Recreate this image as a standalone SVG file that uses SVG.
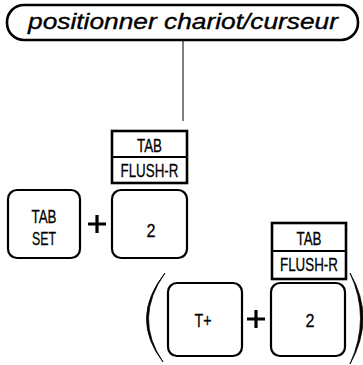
<svg xmlns="http://www.w3.org/2000/svg" width="363" height="365" viewBox="0 0 363 365">
<style>
.key{fill:#fff;stroke:#000;stroke-width:2.2}
.lbl{fill:#fff;stroke:#000;stroke-width:2.6}
.t{font-family:"Liberation Sans",Arial,sans-serif;font-size:19px;fill:#000;stroke:#000;stroke-width:0.3;text-anchor:middle}
.plus{stroke:#000;stroke-width:3.2;fill:none}
.paren{fill:#000;stroke:#000;stroke-width:0.8}
</style>
<rect width="363" height="365" fill="#fff"/>
<g id="connectors">
<line x1="183" y1="40" x2="183" y2="121" stroke="#000" stroke-width="1"/>
</g>
<g id="title">
<rect x="7" y="5" width="351" height="35" rx="17" fill="#fff" stroke="#000" stroke-width="2.6"/>
<text x="183" y="29" font-family="'Liberation Sans',Arial,sans-serif" font-style="italic" font-size="22" stroke="#000" stroke-width="0.35" text-anchor="middle" textLength="310" lengthAdjust="spacingAndGlyphs">positionner  chariot/curseur</text>
</g>
<g id="label1">
<rect x="112" y="131" width="75" height="52" class="lbl"/>
<line x1="112" y1="157" x2="187" y2="157" stroke="#000" stroke-width="2"/>
<text x="149.5" y="152" class="t" textLength="25" lengthAdjust="spacingAndGlyphs">TAB</text>
<text x="149.5" y="177" class="t" textLength="58" lengthAdjust="spacingAndGlyphs">FLUSH-R</text>
</g>
<g id="tabset">
<rect x="8" y="190" width="72" height="68" rx="9" class="key"/>
<text x="44" y="223" class="t" textLength="25" lengthAdjust="spacingAndGlyphs">TAB</text>
<text x="44" y="245" class="t" textLength="24" lengthAdjust="spacingAndGlyphs">SET</text>
</g>
<g id="plus1"><path class="plus" d="M88 224H106M97 215V233"/></g>
<g id="key2">
<rect x="112" y="190" width="75" height="68" rx="9" class="key"/>
<text x="151" y="237" class="t" textLength="9" lengthAdjust="spacingAndGlyphs">2</text>
</g>
<g id="paren-left"><path class="paren" d="M165 273Q129 318 163 362Q133 318 165 273Z"/></g>
<g id="keyT">
<rect x="168" y="283" width="74" height="73" rx="9" class="key"/>
<text x="203" y="327" class="t" textLength="17" lengthAdjust="spacingAndGlyphs">T+</text>
</g>
<g id="plus2"><path class="plus" d="M247 319H265M256 310V328"/></g>
<g id="label2">
<rect x="272" y="223" width="74" height="56" class="lbl"/>
<line x1="272" y1="251" x2="346" y2="251" stroke="#000" stroke-width="2"/>
<text x="309" y="245" class="t" textLength="25" lengthAdjust="spacingAndGlyphs">TAB</text>
<text x="309" y="271" class="t" textLength="58" lengthAdjust="spacingAndGlyphs">FLUSH-R</text>
</g>
<g id="key2b">
<rect x="271" y="283" width="74" height="73" rx="9" class="key"/>
<text x="310" y="327" class="t" textLength="9" lengthAdjust="spacingAndGlyphs">2</text>
</g>
<g id="paren-right"><path class="paren" d="M350 273Q376 318 350 364Q371 318 350 273Z"/></g>
</svg>
